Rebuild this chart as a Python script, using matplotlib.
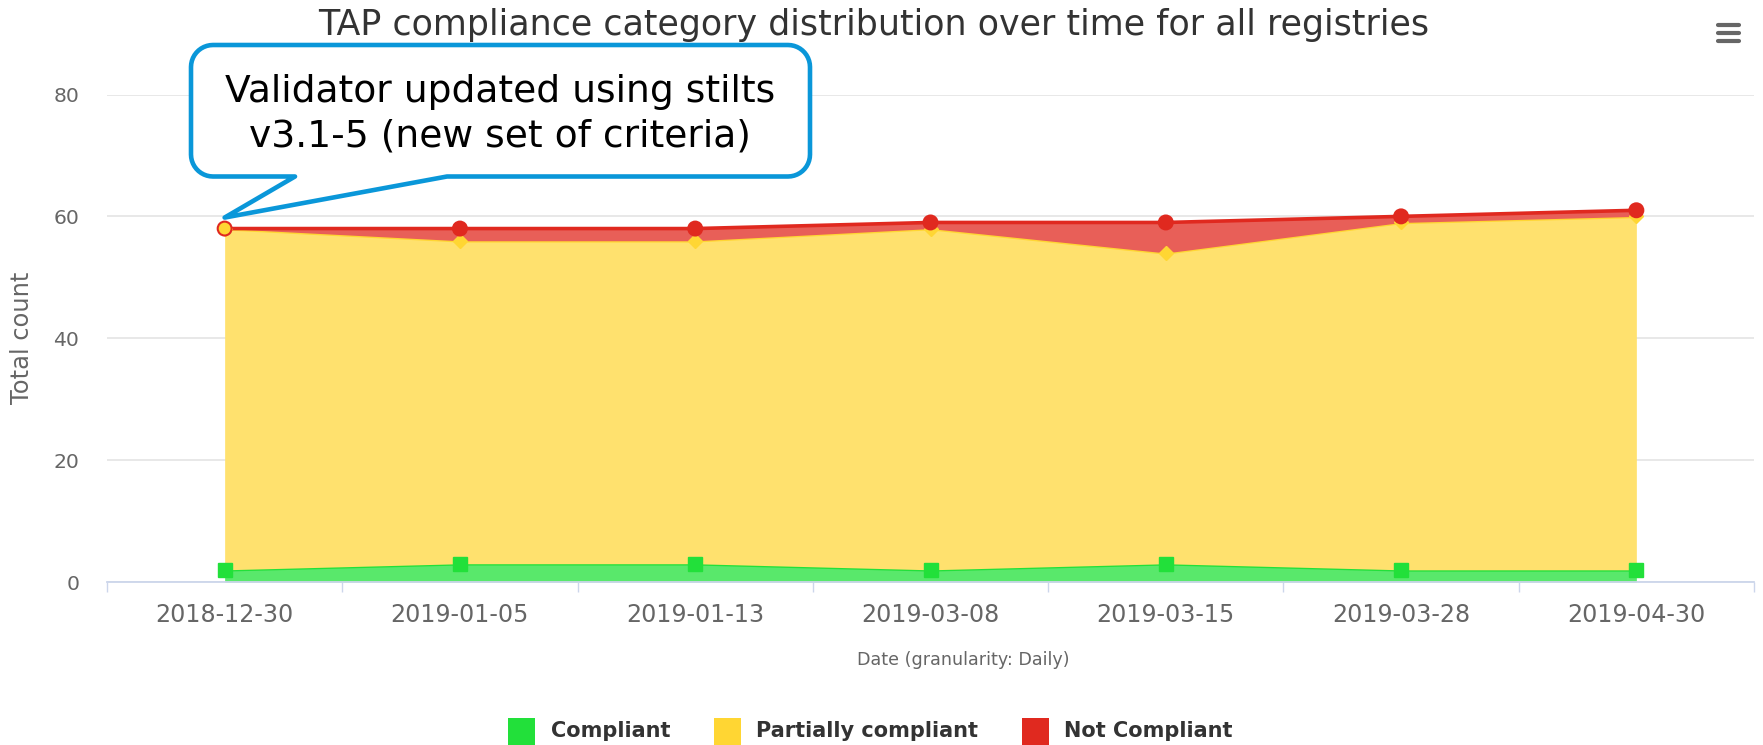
import matplotlib
matplotlib.use('Agg')
import matplotlib.pyplot as plt
import numpy as np
from matplotlib.patches import Polygon, Rectangle
from matplotlib.lines import Line2D
from matplotlib.transforms import IdentityTransform

# ---------------- data ----------------
categories = ['2018-12-30', '2019-01-05', '2019-01-13', '2019-03-08',
              '2019-03-15', '2019-03-28', '2019-04-30']
compliant = [2, 3, 3, 2, 3, 2, 2]
partially = [56, 53, 53, 56, 51, 57, 58]
not_compliant = [0, 2, 2, 1, 5, 1, 1]
series_names = ['Compliant', 'Partially compliant', 'Not Compliant']
y_ticks = [0, 20, 40, 60, 80]
title = 'TAP compliance category distribution over time for all registries'
x_title = 'Date (granularity: Daily)'
y_title = 'Total count'
note_lines = ['Validator updated using stilts', 'v3.1-5 (new set of criteria)']

# ---------------- style ----------------
line_cols = ['#22e03a', '#ffd633', '#e0291f']
fill_cols = ['#59e86b', '#ffe16e', '#e85f58']
plt.rcParams['font.family'] = ['DejaVu Sans']

W, H = 1763, 745
fig = plt.figure(figsize=(W / 100, H / 100), dpi=100)
renderer = fig.canvas.get_renderer()


def fx(px):
    return px / W


def fy(py):
    return 1 - py / H


def fit_size(s, target_w, weight='normal'):
    t = fig.text(0, 0, s, fontsize=20, fontweight=weight)
    w = t.get_window_extent(renderer=renderer).width
    t.remove()
    return 20 * target_w / w


left, right, top, bottom = 107, 1754, 94.5, 582
ax = fig.add_axes([fx(left), fy(bottom), (right - left) / W, (bottom - top) / H])

x = np.arange(len(categories))
c1 = np.array(compliant, dtype=float)
c2 = c1 + np.array(partially)
c3 = c2 + np.array(not_compliant)
levels = [np.zeros_like(c1), c1, c2, c3]

lw = 2.6
for i in range(3):
    ax.fill_between(x, levels[i], levels[i + 1], color=fill_cols[i], lw=0, zorder=2 + i)
    ax.plot(x, levels[i + 1], color=line_cols[i], lw=lw, zorder=2.5 + i,
            solid_joinstyle='round')

# markers
ax.plot(x, c1, ls='none', marker='s', ms=10.5, color=line_cols[0], mec=line_cols[0], zorder=10)
ax.plot(x, c2, ls='none', marker='D', ms=7.5, color=line_cols[1], mec=line_cols[1], zorder=10)
nc = np.array(not_compliant)
red_face = [line_cols[1] if v == 0 else line_cols[2] for v in nc]
ax.scatter(x, c3, s=100, marker='o', c=red_face, edgecolors=line_cols[2],
           linewidths=1.5, zorder=11)

ax.set_xlim(-0.5, len(categories) - 0.5)
ax.set_ylim(0, 80)
for s in ['top', 'right', 'left']:
    ax.spines[s].set_visible(False)
ax.spines['bottom'].set_color('#ccd6eb')
ax.spines['bottom'].set_linewidth(1.3)
ax.spines['bottom'].set_zorder(20)

ax.set_yticks(y_ticks)
ax.yaxis.grid(True, color='#e6e6e6', lw=1.3)
ax.set_axisbelow(True)
ytick_fs = fit_size('80', 26)
ax.tick_params(axis='y', length=0, pad=20, labelsize=ytick_fs, labelcolor='#666666')

ax.set_xticks(x)
xtick_fs = fit_size(categories[0], 138)
ax.set_xticklabels(categories)
ax.tick_params(axis='x', which='major', length=0, pad=15, labelsize=xtick_fs,
               labelcolor='#666666')
ax.set_xticks(np.arange(-0.5, len(categories), 1.0), minor=True)
ax.tick_params(axis='x', which='minor', length=7.5, width=1, color='#ccd6eb', direction='out')

# titles
fig.text(fx(874), fy(25), title, ha='center', va='center',
         fontsize=fit_size(title, 1113), color='#333333')
fig.text(fx(22), fy(338), y_title, ha='center', va='center', rotation=90,
         fontsize=fit_size(y_title, 132), color='#666666')
fig.text(fx(963), fy(660), x_title, ha='center', va='center',
         fontsize=fit_size(x_title, 212), color='#666666')

# legend
leg_fs = fit_size('Partially compliant', 223, weight='bold')
lx = 508
sq = 27
for name, col in zip(series_names, line_cols):
    fig.add_artist(Rectangle((lx, H - 731 - sq / 2), sq, sq, transform=IdentityTransform(),
                             facecolor=col, edgecolor='none'))
    t = fig.text(fx(lx + 43), fy(731), name, ha='left', va='center', fontsize=leg_fs,
                 fontweight='bold', color='#333333')
    w = t.get_window_extent(renderer=renderer).width
    lx = lx + 43 + w + 43

# hamburger icon
for yy in [24.5, 32.5, 40.5]:
    fig.add_artist(Line2D([1718, 1739], [H - yy, H - yy], transform=IdentityTransform(),
                          color='#666666', lw=3, solid_capstyle='round'))

# callout
bx0, bx1, byt, byb, r = 191, 810, 45, 176.5, 22
tail_l, tail_r = 295, 447
tipx, tipy = ax.transData.transform((x[0], c3[0]))
tipy_top = H - (tipy + 11)
pts = []
def arc(cx, cy, a0, a1):
    for a in np.linspace(np.radians(a0), np.radians(a1), 12):
        pts.append((cx + r * np.cos(a), cy + r * np.sin(a)))
arc(bx0 + r, byt + r, 180, 270)
arc(bx1 - r, byt + r, 270, 360)
arc(bx1 - r, byb - r, 0, 90)
pts.append((tail_r, byb))
pts.append((tipx, tipy_top))
pts.append((tail_l, byb))
arc(bx0 + r, byb - r, 90, 180)
verts = [(px, H - py) for px, py in pts]
fig.add_artist(Polygon(verts, closed=True, transform=IdentityTransform(), facecolor='white',
                       edgecolor='#0a97d9', lw=3.3, joinstyle='round', zorder=30))
note_fs = fit_size(note_lines[0], 551)
fig.text(fx(500), fy(92), note_lines[0], ha='center', va='center', fontsize=note_fs,
         color='black', zorder=31)
fig.text(fx(500), fy(137), note_lines[1], ha='center', va='center', fontsize=note_fs,
         color='black', zorder=31)

fig.savefig('out.png', dpi=100)
